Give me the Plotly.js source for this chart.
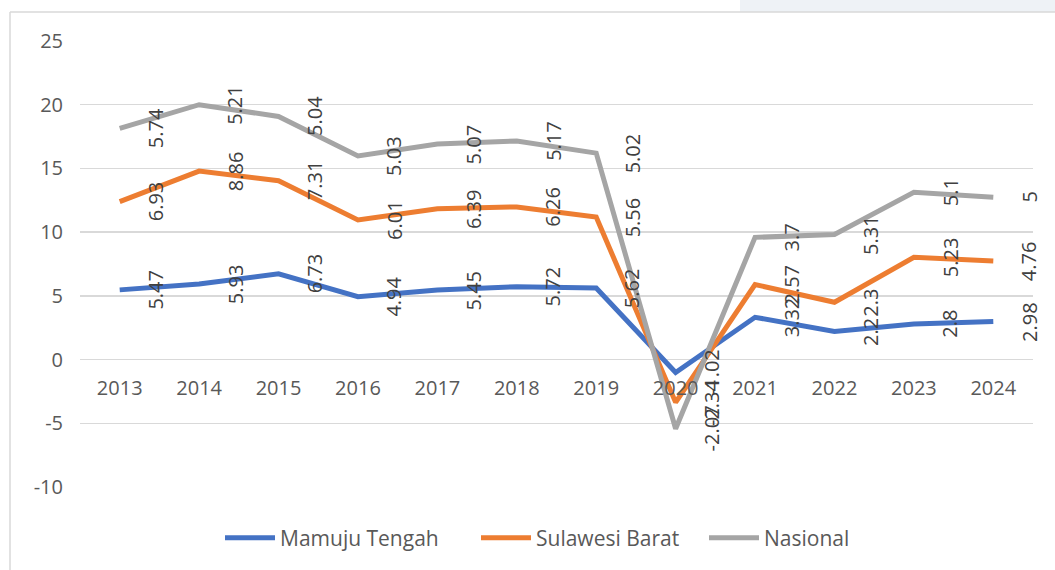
<!DOCTYPE html>
<html><head><meta charset="utf-8">
<script src="https://cdn.plot.ly/plotly-3.0.1.min.js"></script>
<style>html,body{margin:0;padding:0;background:#fff}#chart{width:1055px;height:570px}</style>
</head><body><div id="chart"></div>
<script>
const years = ['2013','2014','2015','2016','2017','2018','2019','2020','2021','2022','2023','2024'];
const mamujuTengah = [5.47,5.93,6.73,4.94,5.45,5.72,5.62,-1.02,3.32,2.2,2.8,2.98];
const sulawesiBarat = [6.93,8.86,7.31,6.01,6.39,6.26,5.56,-2.34,2.57,2.3,5.23,4.76];
const nasional = [5.74,5.21,5.04,5.03,5.07,5.17,5.02,-2.07,3.7,5.31,5.1,5];
const seriesNames = ['Mamuju Tengah','Sulawesi Barat','Nasional'];
const seriesColors = ['#4472C4','#ED7D31','#A5A5A5'];
const yTicks = [-10,-5,0,5,10,15,20,25];

const series = [mamujuTengah, sulawesiBarat, nasional];
const W = 1055, H = 570, L = 80, R = 22, T = 41, B = 83;
const pw = W - L - R, ph = H - T - B;
const px = v => (v - L) / pw, py = v => (H - B - v) / ph;
const legendLeft = [228, 484, 712];
const legendKeys = ['legend', 'legend2', 'legend3'];

let cum = years.map(() => 0);
const traces = [], annotations = [];
series.forEach((vals, i) => {
  cum = cum.map((c, j) => +(c + vals[j]).toFixed(4));
  traces.push({
    x: years, y: cum.slice(), type: 'scatter', mode: 'lines', name: seriesNames[i],
    legend: legendKeys[i],
    line: {color: seriesColors[i], width: 5}, hoverinfo: 'skip'
  });
  vals.forEach((v, j) => {
    annotations.push({
      x: j, y: cum[j], xref: 'x', yref: 'y', text: String(v), showarrow: false,
      textangle: -90, xshift: 36, font: {family: 'Open Sans', size: 20, color: '#404040'}
    });
  });
});

const layout = {
  width: W, height: H,
  margin: {l: L, r: R, t: T, b: B},
  paper_bgcolor: '#fff', plot_bgcolor: '#fff',
  font: {family: 'Open Sans', size: 20, color: '#595959'},
  showlegend: true,
  xaxis: {type: 'category', range: [-0.5, 11.5], anchor: 'free', position: 10/35,
    showgrid: false, showline: false, zeroline: false, ticks: '', ticklabelstandoff: 14,
    tickfont: {family: 'Open Sans', size: 20, color: '#595959'}, fixedrange: true},
  yaxis: {range: [-10, 25], tickvals: yTicks, ticktext: yTicks.map(String),
    showgrid: true, gridcolor: '#d9d9d9', gridwidth: 1.5, zeroline: true, zerolinecolor: '#d9d9d9', zerolinewidth: 1.5,
    showline: false, ticks: '', ticklabelstandoff: 16,
    tickfont: {family: 'Open Sans', size: 20, color: '#595959'}, fixedrange: true},
  annotations: annotations,
  shapes: [
    {type: 'rect', xref: 'paper', yref: 'paper', x0: px(740), x1: px(1060), y0: py(12), y1: py(-5),
      fillcolor: '#eef2f6', line: {width: 0}, layer: 'below'},
    {type: 'line', xref: 'paper', yref: 'paper', x0: px(10), x1: px(1060), y0: py(12), y1: py(12),
      line: {color: '#d9d9d9', width: 1.5}, layer: 'below'},
    {type: 'line', xref: 'paper', yref: 'paper', x0: px(10), x1: px(10), y0: py(12), y1: py(575),
      line: {color: '#d9d9d9', width: 1.5}, layer: 'below'}
  ]
};
legendKeys.forEach((k, i) => {
  layout[k] = {orientation: 'h', x: px(legendLeft[i] - 8), xanchor: 'left', y: py(538), yanchor: 'middle',
    font: {family: 'Open Sans', size: 21, color: '#595959'}, itemwidth: 50, bgcolor: 'rgba(0,0,0,0)'};
});
Plotly.newPlot('chart', traces, layout, {displayModeBar: false, staticPlot: true});
</script></body></html>
